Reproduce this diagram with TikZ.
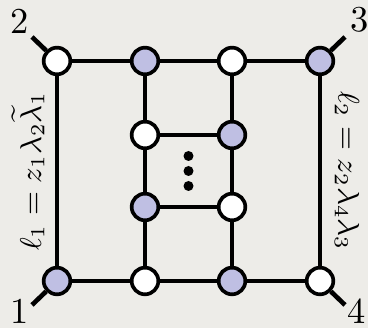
\documentclass[tikz,border=0pt]{standalone}
\usepackage{amsmath}
\usetikzlibrary{calc}
\definecolor{paper}{RGB}{237,236,232}
\definecolor{lilac}{RGB}{191,191,227}

\begin{document}
\begin{tikzpicture}[x=0.3pt, y=0.3pt,
    vw/.style={circle, draw, line width=1.1pt, fill=white, minimum size=8pt, inner sep=0pt},
    vb/.style={vw, fill=lilac},
    edge/.style={line width=1.4pt},
    num/.style={inner sep=0pt, font=\fontsize{10.95}{13}\selectfont},
    mom/.style={inner sep=0pt, font=\fontsize{9}{11}\selectfont}]

    % --- 1. 変数定義 ---
    \pgfmathsetmacro{\xa}{57}
    \pgfmathsetmacro{\xb}{145}
    \pgfmathsetmacro{\xc}{232}
    \pgfmathsetmacro{\xd}{320}
    \pgfmathsetmacro{\ya}{267}
    \pgfmathsetmacro{\yb}{193}
    \pgfmathsetmacro{\yc}{121}
    \pgfmathsetmacro{\yd}{47}

    % --- 2. 背景 ---
    \fill[paper] (0,0) rectangle (368,328);
    \useasboundingbox (0,0) rectangle (368,328);

    % --- 3. 頂点 ---
    \node[vw] (n2) at (\xa,\ya) {};
    \node[vb] (t1) at (\xb,\ya) {};
    \node[vw] (t2) at (\xc,\ya) {};
    \node[vb] (n3) at (\xd,\ya) {};
    \node[vw] (m1) at (\xb,\yb) {};
    \node[vb] (m2) at (\xc,\yb) {};
    \node[vb] (m3) at (\xb,\yc) {};
    \node[vw] (m4) at (\xc,\yc) {};
    \node[vb] (n1) at (\xa,\yd) {};
    \node[vw] (b1) at (\xb,\yd) {};
    \node[vb] (b2) at (\xc,\yd) {};
    \node[vw] (n4) at (\xd,\yd) {};

    % --- 4. 辺 ---
    \foreach \u/\v in {n2/t1, t1/t2, t2/n3, n1/b1, b1/b2, b2/n4, m1/m2, m3/m4,
                       n2/n1, n3/n4, t1/m1, m1/m3, m3/b1, t2/m2, m2/m4, m4/b2} {
        \draw[edge] (\u) -- (\v);
    }

    % --- 5. 外線とラベル ---
    \coordinate (l1) at ($(n1)+(-25,-24)$);
    \coordinate (l2) at ($(n2)+(-25,24)$);
    \coordinate (l3) at ($(n3)+(25,24)$);
    \coordinate (l4) at ($(n4)+(25,-24)$);
    \foreach \k in {1,2,3,4} {
        \draw[edge] (n\k) -- (l\k);
    }
    \node[num] (e1) at ($(l1)+(-12,-6)$) {1};
    \node[num] (e2) at ($(l2)+(-12,16)$) {2};
    \node[num] (e3) at ($(l3)+(15,17)$) {3};
    \node[num] (e4) at ($(l4)+(12,-6)$) {4};

    % --- 6. 中央の点 ---
    \foreach \k in {-1,0,1} {
        \fill (188.5,157+15*\k) circle (5);
    }

    % --- 7. 運動量の表示 ---
    \node[mom, rotate=90] (p1) at (28,157) {$\ell_1 = z_1\lambda_2\widetilde{\lambda}_1$};
    \node[mom, rotate=-90] (p2) at (347,157) {$\ell_2 = z_2\lambda_4\lambda_3$};

\end{tikzpicture}
\end{document}
